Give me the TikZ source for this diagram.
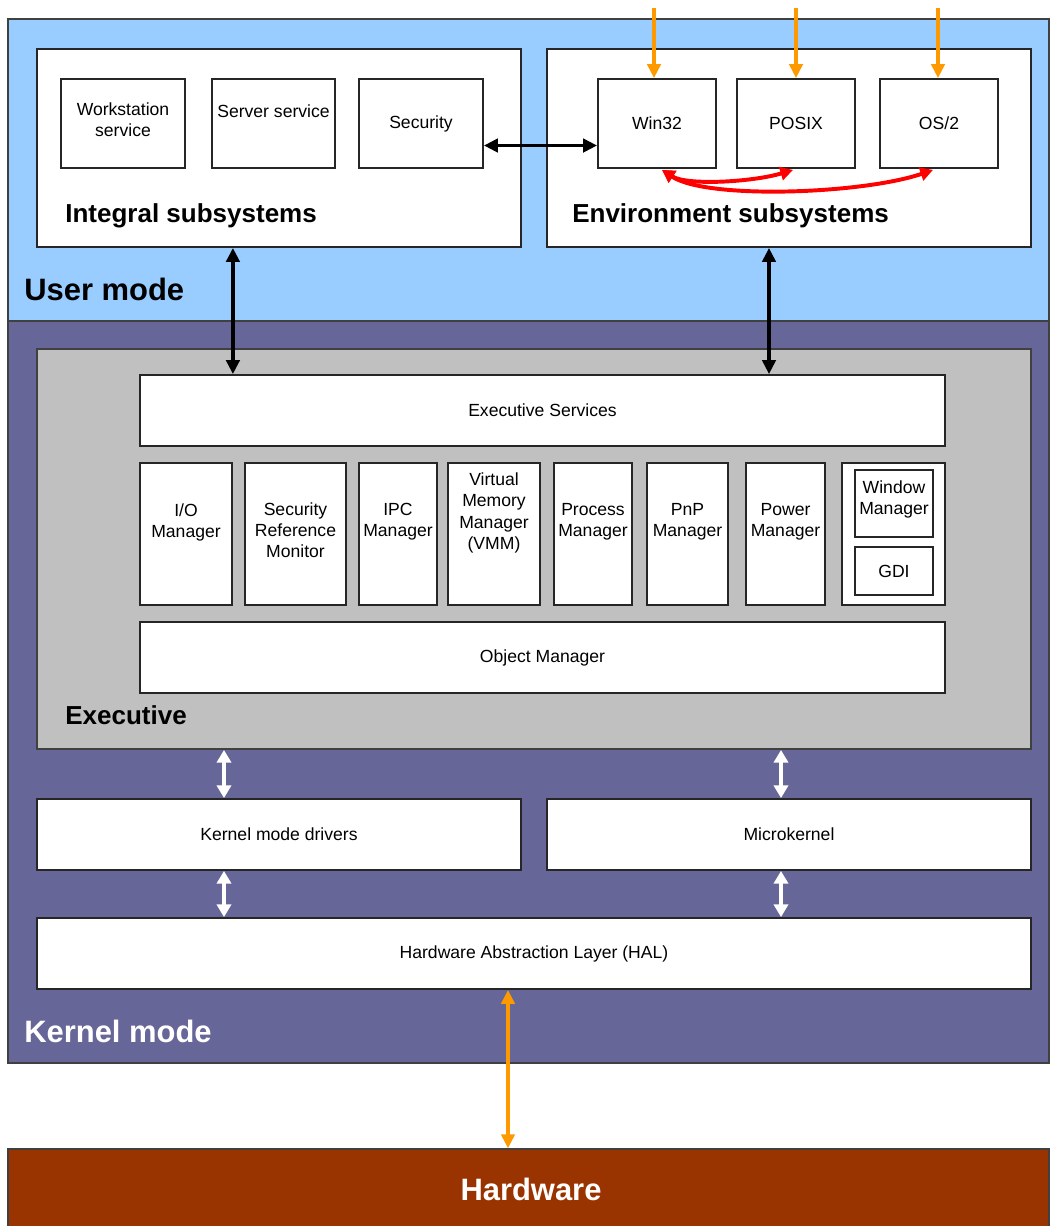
\documentclass[tikz,border=0pt]{standalone}
\usepackage{fontspec}
\setmainfont{Liberation Sans}
\usepackage{tikz}
\usetikzlibrary{arrows.meta}
\usetikzlibrary{fit}
\usetikzlibrary{calc}
\definecolor{usermode}{HTML}{99CCFF}
\definecolor{kernelmode}{HTML}{666699}
\definecolor{execgray}{HTML}{C0C0C0}
\definecolor{hwbrown}{HTML}{993300}
\definecolor{hworange}{HTML}{FF9900}

\begin{document}
\begin{tikzpicture}[line cap=butt,line join=miter,x=0.025cm,y=-0.025cm,
  layer/.style={draw=black!75,line width=1pt,inner sep=0pt},
  blk/.style={draw=black!85,fill=white,line width=1.3pt,inner sep=0pt},
  txt/.style={align=center,font=\fontsize{12.5}{15}\selectfont},
  head/.style={anchor=base west,inner sep=0pt,font=\bfseries\fontsize{18.5}{21}\selectfont},
  modelbl/.style={anchor=base west,inner sep=0pt,font=\bfseries\fontsize{22}{25}\selectfont},
  ctl/.style={draw=black,line width=2.6pt,{Triangle[length=10pt,width=9.5pt]}-{Triangle[length=10pt,width=9.5pt]}},
  kwire/.style={draw=white,line width=2.6pt,{Triangle[length=9pt,width=10pt]}-{Triangle[length=9pt,width=10pt]}},
  syscall/.style={draw=hworange,line width=2.6pt,-{Triangle[length=10pt,width=9.5pt]}},
  hwwire/.style={draw=hworange,line width=2.6pt,{Triangle[length=10pt,width=9.5pt]}-{Triangle[length=10pt,width=9.5pt]}},
  envwire/.style={draw=red,line width=2.8pt,{Triangle[length=9pt,width=9.5pt]}-{Triangle[length=9pt,width=9.5pt]}}]
\useasboundingbox (0,0) rectangle (1050,1226);
\node[layer,fill=usermode,fit={(8,19) (1049,321)}] (user) {};
\node[layer,fill=kernelmode,fit={(8,321) (1049,1063)}] (kernel) {};
\node[layer,fill=hwbrown,fit={(8,1149) (1049,1230)}] (hw) {};
\node[text=white,font=\bfseries\fontsize{22}{25}\selectfont] (hwtxt) at (531,1189) {Hardware};
\node[blk,fit={(37,49) (521,247)}] (integral) {};
\node[blk,fit={(547,49) (1031,247)}] (envsub) {};
\node[blk,fit={(61,79) (185,168)},label={[txt,yshift=2.5pt]center:Workstation\\service}] (wks) {};
\node[blk,fit={(212,79) (335,168)},label={[txt,yshift=9pt]center:Server service}] (srv) {};
\node[blk,fit={(359,79) (483,168)},label={[txt]center:Security}] (sec) {};
\node[blk,fit={(598,79) (716,168)},label={[txt]center:Win32}] (win32) {};
\node[blk,fit={(737,79) (855,168)},label={[txt]center:POSIX}] (posix) {};
\node[blk,fit={(880,79) (998,168)},label={[txt]center:OS/2}] (os2) {};
\node[head] (intlbl) at (65,222) {Integral subsystems};
\node[head] (envlbl) at (572,222) {Environment subsystems};
\node[modelbl] (userlbl) at (24,300) {User mode};
\node[layer,fill=execgray,line width=1.3pt,fit={(37,349) (1031,749)}] (exec) {};
\node[blk,fit={(140,375) (945,446)},label={[txt]center:Executive Services}] (exsvc) {};
\node[blk,fit={(140,463) (232,605)},label={[txt,yshift=8.5pt]center:I/O\\Manager}] (io) {};
\node[blk,fit={(245,463) (346,605)},label={[txt,yshift=2.8pt]center:Security\\Reference\\Monitor}] (srm) {};
\node[blk,fit={(359,463) (437,605)},label={[txt,yshift=8.5pt]center:IPC\\Manager}] (ipc) {};
\node[blk,fit={(448,463) (540,605)},label={[txt,yshift=15pt]center:Virtual\\Memory\\Manager\\(VMM)}] (vmm) {};
\node[blk,fit={(554,463) (632,605)},label={[txt,yshift=8.5pt]center:Process\\Manager}] (proc) {};
\node[blk,fit={(647,463) (728,605)},label={[txt,yshift=8.5pt]center:PnP\\Manager}] (pnp) {};
\node[blk,fit={(746,463) (825,605)},label={[txt,yshift=8.5pt]center:Power\\Manager}] (pwr) {};
\node[blk,fit={(842,463) (945,605)}] (win) {};
\node[blk,fit={(855,470) (933,537)},label={[txt,yshift=3pt]center:Window\\Manager}] (wmgr) {};
\node[blk,fit={(855,547) (933,595)},label={[txt]center:GDI}] (gdi) {};
\node[blk,fit={(140,622) (945,693)},label={[txt]center:Object Manager}] (objmgr) {};
\node[head] (execlbl) at (65,724) {Executive};
\node[blk,fit={(37,799) (521,870)},label={[txt]center:Kernel mode drivers}] (kmd) {};
\node[blk,fit={(547,799) (1031,870)},label={[txt]center:Microkernel}] (ukern) {};
\node[blk,fit={(37,918) (1031,989)},label={[txt]center:Hardware Abstraction Layer (HAL)}] (hal) {};
\node[modelbl,text=white] (kernlbl) at (24,1042) {Kernel mode};
\coordinate (w32in) at (654,8);
\coordinate (posin) at (796,8);
\coordinate (os2in) at (938,8);
\coordinate (envdown) at ($(envsub.south)+(-20,0)$);
\coordinate (kx) at ($(kmd.north)+(-55,0)$);
\coordinate (mx) at ($(ukern.north)+(-8,0)$);
\coordinate (hx) at ($(hal.south)+(-26,0)$);
\draw[syscall] (w32in) -- (w32in |- win32.north);
\draw[syscall] (posin) -- (posin |- posix.north);
\draw[syscall] (os2in) -- (os2in |- os2.north);
\draw[ctl] ($(sec.east)+(0,22)$) -- ($(win32.west)+(0,22)$);
\draw[envwire] ($(win32.south)+(5,1)$) .. controls +(25,16) and +(-40,12) .. ($(posix.south)+(-3,1)$);
\draw[envwire] ($(win32.south)+(5,1)$) .. controls +(45,30) and +(-70,24) .. ($(os2.south)+(-6,1)$);
\draw[ctl] (integral.south -| io.east) -- (exsvc.north -| io.east);
\draw[ctl] (envdown) -- (envdown |- exsvc.north);
\draw[kwire] (exec.south -| kx) -- (kx);
\draw[kwire] (kmd.south -| kx) -- (hal.north -| kx);
\draw[kwire] (exec.south -| mx) -- (mx);
\draw[kwire] (ukern.south -| mx) -- (hal.north -| mx);
\draw[hwwire] (hx) -- (hw.north -| hx);
\end{tikzpicture}
\end{document}
